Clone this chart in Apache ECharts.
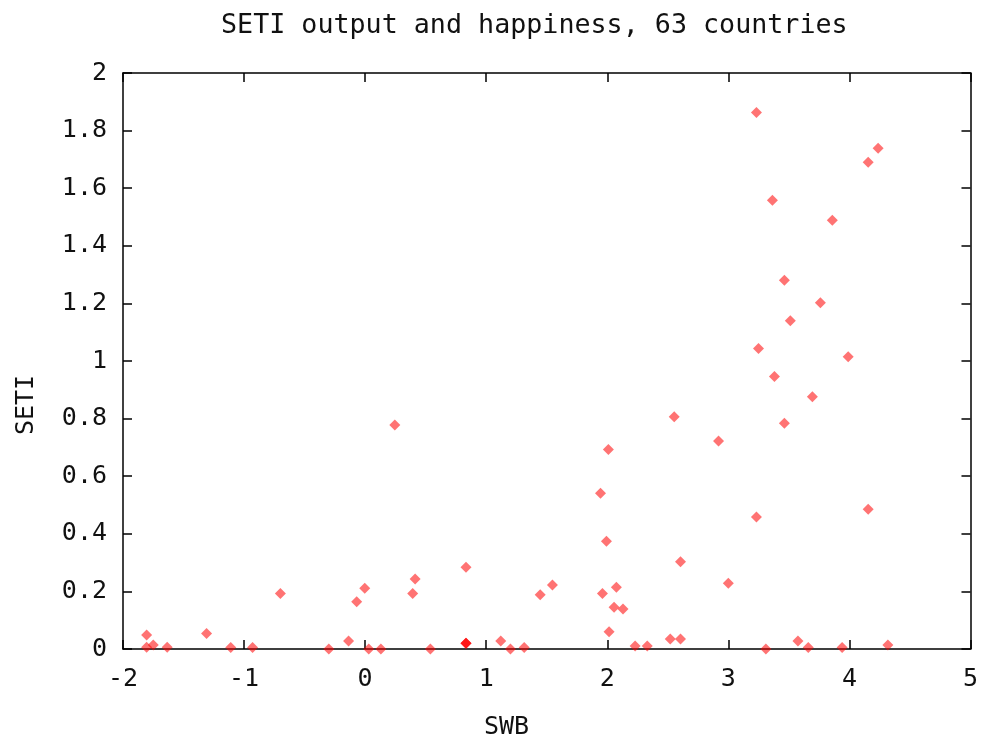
<!DOCTYPE html>
<html>
<head>
<meta charset="utf-8">
<script src="https://cdn.jsdelivr.net/npm/echarts@6/dist/echarts.min.js"></script>
<style>html,body{margin:0;padding:0;background:#fff}#c{width:981px;height:745px}</style>
</head>
<body>
<div id="c"></div>
<script>
var titleText = 'SETI output and happiness, 63 countries';
var xName = 'SWB';
var yName = 'SETI';
var xTicks = [-2, -1, 0, 1, 2, 3, 4, 5];
var yTicks = [0, 0.2, 0.4, 0.6, 0.8, 1, 1.2, 1.4, 1.6, 1.8, 2];

var swb = [
  -1.805, -1.805, -1.75, -1.635, -1.31, -1.11, -0.93, -0.70, -0.30, -0.137,
  -0.07, -0.003, 0.03, 0.13, 0.245, 0.393, 0.413, 0.539, 0.833, 0.833,
  0.833, 0.833, 1.12, 1.20, 1.314, 1.446, 1.547, 1.944, 1.96, 1.993,
  2.009, 2.015, 2.056, 2.075, 2.13, 2.23, 2.33, 2.52, 2.553, 2.605,
  2.605, 2.919, 3.0, 3.232, 3.232, 3.249, 3.31, 3.364, 3.381, 3.463,
  3.463, 3.512, 3.575, 3.66, 3.694, 3.76, 3.859, 3.94, 3.99, 4.155,
  4.155, 4.237, 4.318
];
var seti = [
  0.049, 0.006, 0.014, 0.006, 0.054, 0.005, 0.005, 0.193, 0.0, 0.028,
  0.164, 0.211, 0.0, 0.0, 0.778, 0.193, 0.243, 0.0, 0.284, 0.02,
  0.02, 0.02, 0.028, 0.0, 0.005, 0.188, 0.222, 0.541, 0.193, 0.374,
  0.693, 0.06, 0.145, 0.214, 0.139, 0.01, 0.01, 0.035, 0.806, 0.035,
  0.303, 0.722, 0.228, 1.863, 0.458, 1.043, 0.0, 1.558, 0.946, 1.280,
  0.784, 1.140, 0.028, 0.005, 0.876, 1.202, 1.489, 0.005, 1.015, 1.690,
  0.485, 1.739, 0.014
];

var points = swb.map(function (x, i) { return [x, seti[i]]; });

var font = 'DejaVu Sans Mono';
var chart = echarts.init(document.getElementById('c'), null, {renderer: 'canvas'});
var xMin = xTicks[0], xMax = xTicks[xTicks.length - 1];
var yMin = yTicks[0], yMax = yTicks[yTicks.length - 1];
var xInt = xTicks[1] - xTicks[0], yInt = 0.2;

function axisBase(extra) {
  var o = {
    axisLine: {show: true, onZero: false, lineStyle: {color: '#000', width: 1.5}},
    axisTick: {show: true, inside: true, length: 9, lineStyle: {color: '#000', width: 1.5}},
    splitLine: {show: false},
    axisLabel: {show: true, color: '#111', fontFamily: font, fontSize: 25}
  };
  for (var k in extra) o[k] = extra[k];
  return o;
}

chart.setOption({
  animation: false,
  backgroundColor: '#fff',
  title: {
    text: titleText, left: 216, top: 8,
    textStyle: {fontFamily: font, fontSize: 26.7, fontWeight: 'normal', color: '#111'}
  },
  grid: {left: 123, right: 9, top: 73, bottom: 96, containLabel: false},
  graphic: [
    {type: 'text', left: 484, top: 715,
      style: {text: xName, fontFamily: font, fontSize: 25, fill: '#111'}},
    {type: 'text', x: 26, y: 405, rotation: Math.PI / 2,
      style: {text: yName, fontFamily: font, fontSize: 25, fill: '#111',
        align: 'center', verticalAlign: 'middle'}}
  ],
  xAxis: [
    axisBase({type: 'value', min: xMin, max: xMax, interval: xInt, position: 'bottom',
      axisLabel: {show: true, color: '#111', fontFamily: font, fontSize: 25, margin: 18}}),
    axisBase({type: 'value', min: xMin, max: xMax, interval: xInt, position: 'top',
      axisLabel: {show: false}})
  ],
  yAxis: [
    axisBase({type: 'value', min: yMin, max: yMax, interval: yInt, position: 'left',
      axisLabel: {show: true, color: '#111', fontFamily: font, fontSize: 25, margin: 16}}),
    axisBase({type: 'value', min: yMin, max: yMax, interval: yInt, position: 'right',
      axisLabel: {show: false}})
  ],
  series: [{
    type: 'scatter',
    xAxisIndex: 0, yAxisIndex: 0,
    data: points,
    symbol: 'diamond',
    symbolSize: [11, 11],
    itemStyle: {color: '#ff0000', opacity: 0.55}
  }]
});
</script>
</body>
</html>
